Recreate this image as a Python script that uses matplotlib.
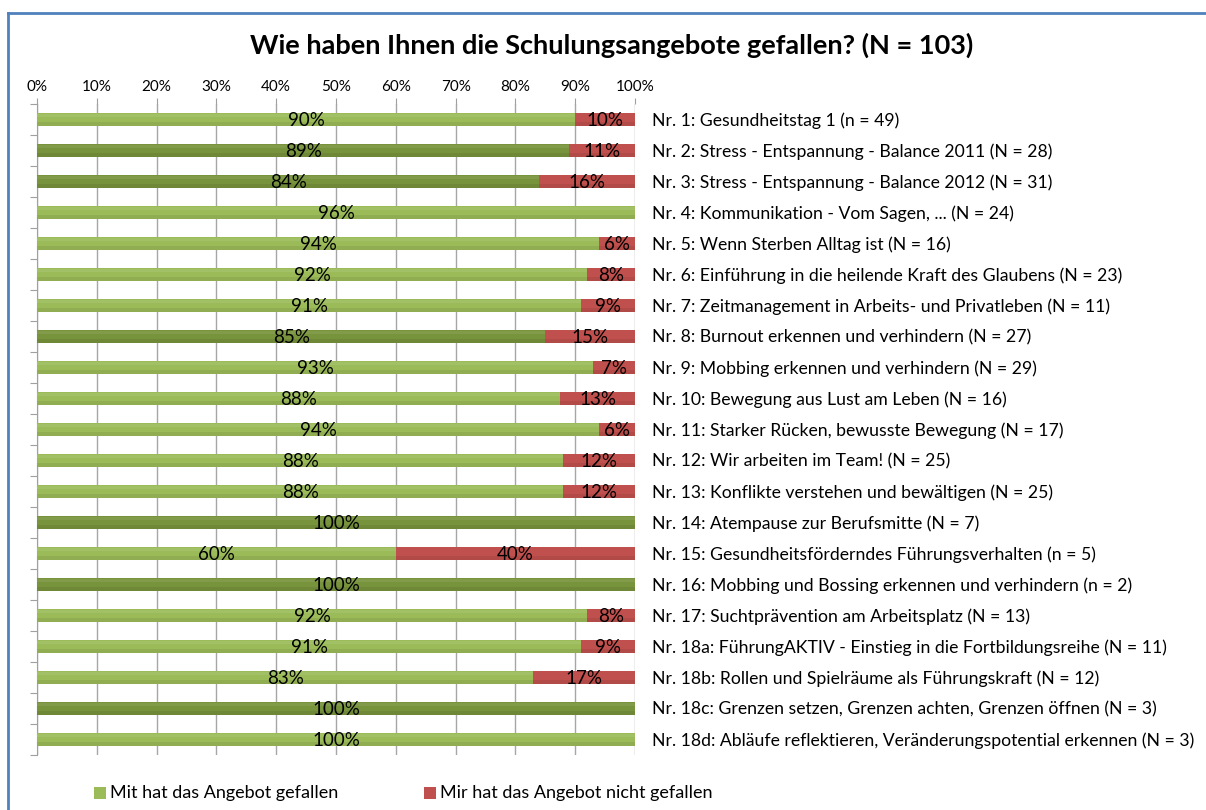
import matplotlib
matplotlib.use("Agg")
import matplotlib.pyplot as plt
from matplotlib.lines import Line2D
from matplotlib.patches import Rectangle

plt.rcParams['font.family'] = ['Lato', 'DejaVu Sans']

categories = [
    "Nr. 1: Gesundheitstag 1 (n = 49)",
    "Nr. 2: Stress - Entspannung - Balance 2011 (N = 28)",
    "Nr. 3: Stress - Entspannung - Balance 2012 (N = 31)",
    "Nr. 4: Kommunikation - Vom Sagen, ... (N = 24)",
    "Nr. 5: Wenn Sterben Alltag ist (N = 16)",
    "Nr. 6: Einführung in die heilende Kraft des Glaubens (N = 23)",
    "Nr. 7: Zeitmanagement in Arbeits- und Privatleben (N = 11)",
    "Nr. 8: Burnout erkennen und verhindern (N = 27)",
    "Nr. 9: Mobbing erkennen und verhindern (N = 29)",
    "Nr. 10: Bewegung aus Lust am Leben (N = 16)",
    "Nr. 11: Starker Rücken, bewusste Bewegung (N = 17)",
    "Nr. 12: Wir arbeiten im Team! (N = 25)",
    "Nr. 13: Konflikte verstehen und bewältigen (N = 25)",
    "Nr. 14: Atempause zur Berufsmitte (N = 7)",
    "Nr. 15: Gesundheitsförderndes Führungsverhalten (n = 5)",
    "Nr. 16: Mobbing und Bossing erkennen und verhindern (n = 2)",
    "Nr. 17: Suchtprävention am Arbeitsplatz (N = 13)",
    "Nr. 18a: FührungAKTIV - Einstieg in die Fortbildungsreihe (N = 11)",
    "Nr. 18b: Rollen und Spielräume als Führungskraft (N = 12)",
    "Nr. 18c: Grenzen setzen, Grenzen achten, Grenzen öffnen (N = 3)",
    "Nr. 18d: Abläufe reflektieren, Veränderungspotential erkennen (N = 3)",
]
liked = [90, 89, 84, 100, 94, 92, 91, 85, 93, 87.5, 94, 88, 88, 100, 60, 100, 92, 91, 83, 100, 100]
disliked = [10, 11, 16, 0, 6, 8, 9, 15, 7, 12.5, 6, 12, 12, 0, 40, 0, 8, 9, 17, 0, 0]
liked_labels = ["90%", "89%", "84%", "96%", "94%", "92%", "91%", "85%", "93%", "88%", "94%",
                "88%", "88%", "100%", "60%", "100%", "92%", "91%", "83%", "100%", "100%"]
disliked_labels = ["10%", "11%", "16%", "", "6%", "8%", "9%", "15%", "7%", "13%", "6%",
                   "12%", "12%", "", "40%", "", "8%", "9%", "17%", "", ""]
dark_rows = [1, 2, 7, 13, 15, 19]
x_ticks = [0, 10, 20, 30, 40, 50, 60, 70, 80, 90, 100]
legend_labels = ["Mit hat das Angebot gefallen", "Mir hat das Angebot nicht gefallen"]
title = "Wie haben Ihnen die Schulungsangebote gefallen? (N = 103)"

GREEN = "#9BBB59"
DARK_GREEN = "#77933C"
RED = "#C0504D"

fig = plt.figure(figsize=(12.06, 8.10), dpi=100)
ax = fig.add_axes([37/1206, 1 - 755/810, (635 - 37)/1206, (755 - 104)/810])

n = len(categories)
ys = list(range(n))
bar_h = 0.43
gcolors = [DARK_GREEN if i in dark_rows else GREEN for i in ys]
ax.barh(ys, liked, height=bar_h, color=gcolors, zorder=3)
ax.barh(ys, disliked, left=liked, height=bar_h, color=RED, zorder=3)
# subtle shading to mimic gradient
ax.barh([y + bar_h * 0.35 for y in ys], liked, height=bar_h * 0.3, color="black", alpha=0.07, zorder=4)
ax.barh([y + bar_h * 0.35 for y in ys], disliked, left=liked, height=bar_h * 0.3, color="black", alpha=0.07, zorder=4)
ax.barh([y - bar_h * 0.3 for y in ys], liked, height=bar_h * 0.25, color="white", alpha=0.08, zorder=4)

for i in ys:
    ax.text(liked[i] / 2, i + 0.04, liked_labels[i], ha="center", va="center", fontsize=13.5, zorder=5)
    if disliked_labels[i]:
        ax.text(liked[i] + disliked[i] / 2, i + 0.04, disliked_labels[i], ha="center", va="center",
                fontsize=13.5, zorder=5)
    ax.text(102.8, i + 0.04, categories[i], ha="left", va="center", fontsize=12.7, clip_on=False)

ax.set_xlim(0, 100)
ax.set_ylim(n - 0.5, -0.5)
ax.xaxis.tick_top()
ax.set_xticks(x_ticks)
ax.set_xticklabels([f"{t}%" for t in x_ticks], fontsize=11)
ax.tick_params(axis="x", length=4, color="#A0A0A0", pad=3)
ax.grid(axis="x", color="#A6A6A6", linewidth=1, zorder=0)
ax.set_yticks([y - 0.5 for y in ys] + [n - 0.5])
ax.set_yticklabels([])
ax.tick_params(axis="y", length=5, color="#A0A0A0")
for s in ["top", "right", "bottom"]:
    ax.spines[s].set_visible(False)
ax.spines["left"].set_color("#A0A0A0")

fig.text(612/1206, 1 - 45/810, title, ha="center", va="center", fontsize=19.5, fontweight="bold")

# legend
fig.patches.append(Rectangle((94/1206, 1 - 799/810), 12/1206, 12/810, transform=fig.transFigure,
                             facecolor=GREEN, edgecolor="none"))
fig.text(110/1206, 1 - 793/810, legend_labels[0], ha="left", va="center", fontsize=13)
fig.patches.append(Rectangle((424/1206, 1 - 799/810), 12/1206, 12/810, transform=fig.transFigure,
                             facecolor=RED, edgecolor="none"))
fig.text(440/1206, 1 - 793/810, legend_labels[1], ha="left", va="center", fontsize=13)

# border
fig.add_artist(Line2D([8/1206, 8/1206], [0, 1 - 13/810], transform=fig.transFigure, color="#4F81BD", lw=2))
fig.add_artist(Line2D([8/1206, 1], [1 - 13/810, 1 - 13/810], transform=fig.transFigure, color="#4F81BD", lw=2))

fig.savefig("out.png", dpi=100)
